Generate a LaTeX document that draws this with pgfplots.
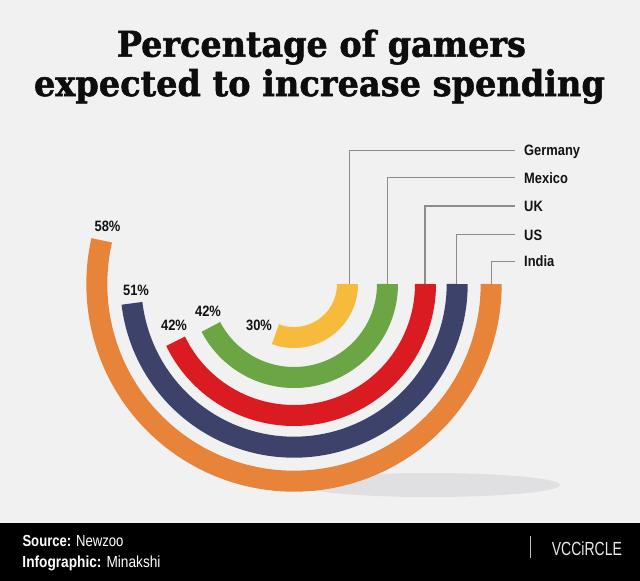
\documentclass[border=0pt]{standalone}
\usepackage{pgfplots}
\usepackage{pgfplotstable}
\usepackage{graphicx}
\usepackage{fontspec}
\pgfplotsset{compat=1.18}
\setmainfont{Liberation Sans}
\newfontfamily\titlefont{DejaVu Serif}[BoldFeatures={FakeBold=1.6}]
\definecolor{bgc}{HTML}{F1F1F1}
\definecolor{shadowc}{HTML}{E0E0E2}
\definecolor{cGer}{HTML}{F6BB3A}
\definecolor{cMex}{HTML}{6CA544}
\definecolor{cUK}{HTML}{DA1C22}
\definecolor{cUS}{HTML}{3D426B}
\definecolor{cInd}{HTML}{E8833A}
\definecolor{leadc}{HTML}{8C8C8C}
\newcommand\lbl[1]{\scalebox{0.86}[1]{#1}}
\tikzset{lab/.style={font=\fontsize{15}{18}\selectfont\bfseries, text=black!93, inner sep=0pt},
  leader/.style={draw=leadc, line width=1.1pt}}
% value = percentage; radius = mid radius of the arc; sweep = drawn arc angle (deg)
% lx = leader line x; ly = leader line y; lb = country label baseline
% px, py = percentage label position (centre x, baseline y)
\pgfplotstableread{
country value radius sweep lx ly lb px py col
Germany 30 53.5 110.3 349.3 150.3 155.7 259.0 330.0 cGer
Mexico 42 93.5 152.7 387.3 177.7 183.3 208.0 316.7 cMex
UK 42 131.5 154.2 425.0 206.0 211.7 174.0 330.0 cUK
US 51 163.2 173.2 456.7 234.3 240.0 136.0 295.0 cUS
India 58 197.2 192.8 491.7 261.7 266.0 107.5 231.7 cInd
}\data
\begin{document}
\begin{tikzpicture}
\begin{axis}[x=1pt, y=1pt, xmin=0, xmax=640, ymin=0, ymax=581, y dir=reverse,
  hide axis, clip=false, scale only axis]
\fill[bgc] (axis cs:0,0) rectangle (axis cs:640,581);
\fill[shadowc] (axis cs:430,485) ellipse [x radius=130pt, y radius=12pt];
% title
\node[anchor=base, inner sep=0pt, text=black!95] at (axis cs:321.4,56.7)
  {\titlefont\bfseries\fontsize{35.5}{40}\selectfont\resizebox{409pt}{\height}{Percentage of gamers}};
\node[anchor=base, inner sep=0pt, text=black!95] at (axis cs:319.5,96)
  {\titlefont\bfseries\fontsize{35.5}{40}\selectfont\resizebox{571pt}{\height}{expected to increase spending}};
% arcs, leaders and labels
\pgfplotsforeachungrouped \i in {0,...,4}{%
  \pgfplotstablegetelem{\i}{country}\of\data \let\Cn\pgfplotsretval
  \pgfplotstablegetelem{\i}{value}\of\data \let\V\pgfplotsretval
  \pgfplotstablegetelem{\i}{radius}\of\data \let\R\pgfplotsretval
  \pgfplotstablegetelem{\i}{sweep}\of\data \let\S\pgfplotsretval
  \pgfplotstablegetelem{\i}{lx}\of\data \let\LX\pgfplotsretval
  \pgfplotstablegetelem{\i}{ly}\of\data \let\LY\pgfplotsretval
  \pgfplotstablegetelem{\i}{lb}\of\data \let\LB\pgfplotsretval
  \pgfplotstablegetelem{\i}{px}\of\data \let\PX\pgfplotsretval
  \pgfplotstablegetelem{\i}{py}\of\data \let\PY\pgfplotsretval
  \pgfplotstablegetelem{\i}{col}\of\data \let\Col\pgfplotsretval
  \edef\tmp{%
    \noexpand\addplot[leader] coordinates {(\LX,286) (\LX,\LY) (515,\LY)};
    \noexpand\addplot[draw=\Col, line width=21pt, domain=0:\S, samples=120]
      ({294+\R*cos(x)},{284+\R*sin(x)});
    \noexpand\node[lab, anchor=base west] at (axis cs:524,\LB) {\noexpand\lbl{\Cn}};
    \noexpand\node[lab, anchor=base] at (axis cs:\PX,\PY) {\noexpand\lbl{\V\noexpand\%}};
  }\tmp
}
% footer
\fill[black] (axis cs:0,523) rectangle (axis cs:640,581);
\node[anchor=base west, inner sep=0pt, text=white] at (axis cs:22.3,546.7)
  {\fontsize{16}{18}\selectfont\resizebox{101pt}{\height}{\textbf{Source:} Newzoo}};
\node[anchor=base west, inner sep=0pt, text=white] at (axis cs:22.3,567.3)
  {\fontsize{16}{18}\selectfont\resizebox{138pt}{\height}{\textbf{Infographic:} Minakshi}};
\draw[white!75!black, line width=0.8pt] (axis cs:530,536) -- (axis cs:530,558);
\node[anchor=base west, inner sep=0pt, text=white!92!black] at (axis cs:551.7,555)
  {\fontsize{19}{20}\selectfont\resizebox{70pt}{\height}{VCCiRCLE}};
\end{axis}
\end{tikzpicture}
\end{document}
